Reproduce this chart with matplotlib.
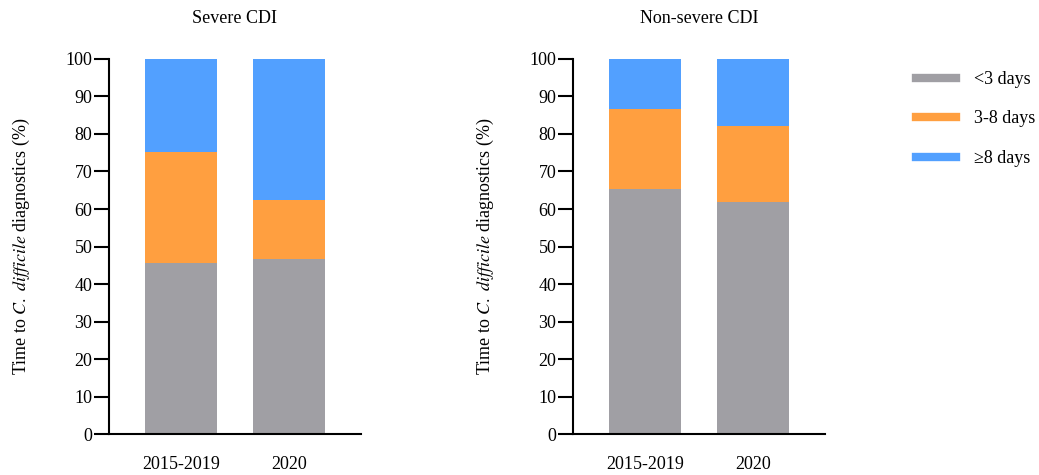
import numpy as np
import matplotlib
matplotlib.use('Agg')
import matplotlib.pyplot as plt
from matplotlib.lines import Line2D

plt.rcParams['font.family'] = ['Liberation Serif', 'DejaVu Serif']
plt.rcParams['mathtext.fontset'] = 'stix'

periods = ['2015-2019', '2020']
categories = ['<3 days', '3-8 days', '\u22658 days']
colors = ['#A09FA4', '#FF9F40', '#52A0FF']

# percentages per category, one value per period
severe_lt3 = [45.6, 46.8]
severe_3to8 = [29.7, 15.5]
severe_ge8 = [24.7, 37.7]

nonsevere_lt3 = [65.3, 61.8]
nonsevere_3to8 = [21.3, 20.4]
nonsevere_ge8 = [13.4, 17.8]

panels = [
    ('Severe CDI', [severe_lt3, severe_3to8, severe_ge8]),
    ('Non-severe CDI', [nonsevere_lt3, nonsevere_3to8, nonsevere_ge8]),
]

fig = plt.figure(figsize=(10.39, 4.75), dpi=100)
lefts = [0.1049, 0.5515]
x = np.arange(len(periods))

for (title, series), left in zip(panels, lefts):
    ax = fig.add_axes([left, 0.0863, 0.2425, 0.7895])
    bottom = np.zeros(len(periods))
    for vals, c in zip(series, colors):
        ax.bar(x, vals, width=0.667, bottom=bottom, color=c, linewidth=0)
        bottom += np.array(vals)
    ax.set_xlim(-0.667, 1.667)
    ax.set_ylim(0, 100)
    ax.set_yticks(np.arange(0, 101, 10))
    ax.set_xticks(x)
    ax.set_xticklabels(periods)
    for s in ['top', 'right']:
        ax.spines[s].set_visible(False)
    for s in ['left', 'bottom']:
        ax.spines[s].set_linewidth(1.5)
    ax.tick_params(axis='y', length=10.5, width=1.5, pad=1.5, labelsize=13)
    ax.tick_params(axis='x', length=0, pad=16, labelsize=13)
    ax.set_title(title, fontsize=13, pad=26)
    ax.set_ylabel(r'Time to $\mathit{C.\ difficile}$ diagnostics (%)', fontsize=13, labelpad=24)

handles = [Line2D([0], [0], color=c, lw=6) for c in colors]
fig.legend(handles, categories, loc='upper left', bbox_to_anchor=(0.866, 0.885),
           frameon=False, fontsize=13, handlelength=2.2, handletextpad=1.0,
           labelspacing=1.25)

fig.savefig('out.png', dpi=100)
